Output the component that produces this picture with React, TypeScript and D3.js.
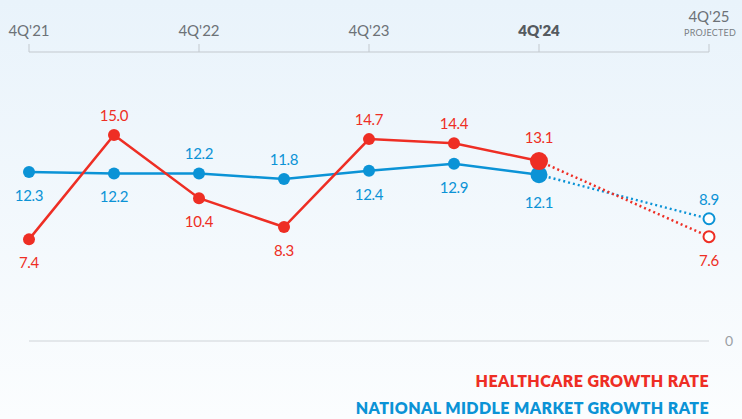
import React from 'react';
import * as d3 from 'd3';

const periods = ['4Q21', '2Q22', '4Q22', '2Q23', '4Q23', '2Q24', '4Q24', '2Q25', '4Q25'];
const tickLabels = ["4Q'21", "4Q'22", "4Q'23", "4Q'24", "4Q'25"];
const tickPeriods = ['4Q21', '4Q22', '4Q23', '4Q24', '4Q25'];

const healthcare = [7.4, 15.0, 10.4, 8.3, 14.7, 14.4, 13.1];
const healthcarePos = ['below', 'above', 'below', 'below', 'above', 'above', 'above'];
const healthcareProjected = 7.6;

const national = [12.3, 12.2, 12.2, 11.8, 12.4, 12.9, 12.1];
const nationalPos = ['below', 'below', 'above', 'above', 'below', 'below', 'below'];
const nationalProjected = 8.9;

const RED = '#ee2e24';
const BLUE = '#0b93d6';
const FONT = 'Lato, "Open Sans", sans-serif';

const W = 742;
const H = 419;

export default function App() {
  const x = d3.scalePoint<string>().domain(periods).range([29, 709]);
  const y = d3.scaleLinear().domain([0, 15]).range([341, 135]);
  const line = d3.line<[number, number]>().x(d => d[0]).y(d => d[1]);

  const lastIdx = 6;
  const projX = x('4Q25')!;

  const series = [
    { vals: national, pos: nationalPos, proj: nationalProjected, projPos: 'above', color: BLUE, bigR: 8.5 },
    { vals: healthcare, pos: healthcarePos, proj: healthcareProjected, projPos: 'below', color: RED, bigR: 9 },
  ];

  return (
    <svg width={W} height={H} style={{ position: 'absolute', left: 0, top: 0 }}>
      <defs>
        <linearGradient id="bg" x1="0" y1="0" x2="0" y2="1">
          <stop offset="0" stopColor="#e9f3fb" />
          <stop offset="1" stopColor="#fbfdfe" />
        </linearGradient>
      </defs>
      <rect width={W} height={H} fill="url(#bg)" />

      {/* top axis */}
      <line x1={x('4Q21')} x2={projX} y1={52} y2={52} stroke="#c3c9ce" strokeWidth={1} />
      {tickPeriods.map((p, i) => (
        <g key={p}>
          <line x1={x(p)} x2={x(p)} y1={44} y2={52} stroke="#c3c9ce" strokeWidth={1} />
          <text
            x={x(p)}
            y={i === 4 ? 22 : 36}
            textAnchor="middle"
            fontFamily={FONT}
            fontSize={15}
            fontWeight={i === 3 ? 800 : 400}
            fill={i === 3 ? '#555a5f' : '#6d7277'}
          >
            {tickLabels[i]}
          </text>
        </g>
      ))}
      <text x={projX + 1} y={36} textAnchor="middle" fontFamily={FONT} fontSize={9} fill="#7a7f84" letterSpacing={0.2}>
        PROJECTED
      </text>

      {/* zero line */}
      <line x1={x('4Q21')} x2={projX} y1={y(0)} y2={y(0)} stroke="#cfd4d8" strokeWidth={1} />
      <text x={729} y={y(0) + 5} textAnchor="middle" fontFamily={FONT} fontSize={14} fill="#9aa0a5">0</text>

      {series.map((s, si) => {
        const pts: [number, number][] = s.vals.map((v, i) => [x(periods[i])!, y(v)]);
        const last = pts[lastIdx];
        const projPt: [number, number] = [projX, y(s.proj)];
        return (
          <g key={si}>
            <path d={line(pts)!} fill="none" stroke={s.color} strokeWidth={2.5} />
            <path d={line([last, projPt])!} fill="none" stroke={s.color} strokeWidth={2.5} strokeDasharray="2 3" />
            {pts.map((p, i) => (
              <circle key={i} cx={p[0]} cy={p[1]} r={i === lastIdx ? s.bigR : 6} fill={s.color} />
            ))}
            <circle cx={projPt[0]} cy={projPt[1]} r={5.5} fill="#ffffff" stroke={s.color} strokeWidth={2} />
            {s.vals.map((v, i) => {
              const above = s.pos[i] === 'above';
              const off = i === lastIdx ? 4 : 0;
              return (
                <text
                  key={'t' + i}
                  x={pts[i][0]}
                  y={above ? pts[i][1] - 14 - off : pts[i][1] + 29 + off}
                  textAnchor="middle"
                  fontFamily={FONT}
                  fontSize={15}
                  fill={s.color}
                  letterSpacing={-0.3}
                >
                  {v.toFixed(1)}
                </text>
              );
            })}
            <text
              x={projPt[0]}
              y={s.projPos === 'above' ? projPt[1] - 14 : projPt[1] + 29}
              textAnchor="middle"
              fontFamily={FONT}
              fontSize={15}
              fill={s.color}
              letterSpacing={-0.3}
            >
              {s.proj.toFixed(1)}
            </text>
          </g>
        );
      })}

      {/* legend */}
      <text x={709} y={387} textAnchor="end" fontFamily={FONT} fontSize={16} fontWeight={800} fill={RED} letterSpacing={0.4}>
        HEALTHCARE GROWTH RATE
      </text>
      <text x={709} y={414} textAnchor="end" fontFamily={FONT} fontSize={16} fontWeight={800} fill={BLUE} letterSpacing={0.4}>
        NATIONAL MIDDLE MARKET GROWTH RATE
      </text>
    </svg>
  );
}
